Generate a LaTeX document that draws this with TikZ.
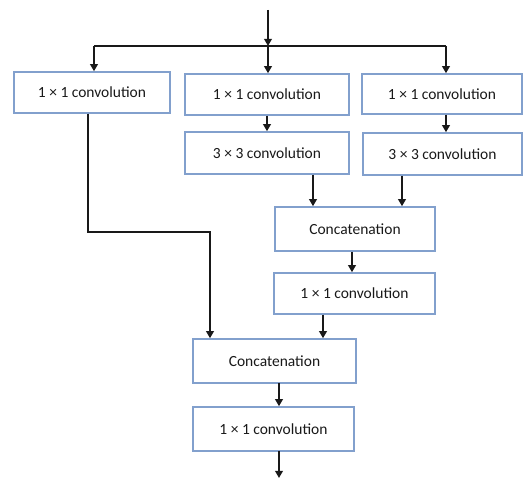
\documentclass[tikz,border=0pt]{standalone}
\usepackage{fontspec}
\setmainfont{Carlito}
\usetikzlibrary{arrows.meta}
\begin{document}
\begin{tikzpicture}[x=1pt,y=-1pt,
  box/.style={draw=boxblue,line width=1.5pt,fill=white,inner sep=0pt,
    font=\fontsize{15.5}{17}\selectfont,text=black!90},
  arr/.style={line width=2.1pt,draw=black!90,-{Triangle[length=7pt,width=7.5pt]}},
  ln/.style={line width=2.1pt,draw=black!90}]
\definecolor{boxblue}{RGB}{130,160,205}
\useasboundingbox (0,0) rectangle (528,478);
\node[box,minimum width=156pt,minimum height=41pt] (A1) at (92,92.5) {1 × 1 convolution};
\node[box,minimum width=164pt,minimum height=41pt] (B1) at (267,94.5) {1 × 1 convolution};
\node[box,minimum width=160pt,minimum height=40pt] (C1) at (442,94) {1 × 1 convolution};
\node[box,minimum width=164pt,minimum height=42pt] (B2) at (267,153) {3 × 3 convolution};
\node[box,minimum width=159pt,minimum height=42pt] (C2) at (442.5,154) {3 × 3 convolution};
\node[box,minimum width=160pt,minimum height=44pt] (Cat1) at (355,229) {Concatenation};
\node[box,minimum width=161pt,minimum height=41pt] (M) at (354.5,293.5) {1 × 1 convolution};
\node[box,minimum width=163pt,minimum height=44pt] (Cat2) at (274.5,361) {Concatenation};
\node[box,minimum width=161pt,minimum height=44pt] (F) at (273.5,429) {1 × 1 convolution};
% input
\coordinate (in) at (268,10);
\coordinate (j) at (268,46);
\coordinate (jl) at (94,46);
\coordinate (jr) at (446,46);
\draw[arr] (in) -- (j);
\draw[ln] (jl) -- (jr);
\draw[arr] (j) -- (j |- B1.north);
\draw[arr] (jl) -- (jl |- A1.north);
\draw[arr] (jr) -- (jr |- C1.north);
% internal branches
\draw[arr] (B1.south) -- (B2.north);
\coordinate (c1o) at ([xshift=4pt]C1.south);
\draw[arr] (c1o) -- (c1o |- C2.north);
\coordinate (b2o) at ([xshift=46pt]B2.south);
\draw[arr] (b2o) -- (b2o |- Cat1.north);
\coordinate (c2o) at ([xshift=-40.5pt]C2.south);
\draw[arr] (c2o) -- (c2o |- Cat1.north);
\coordinate (cat1o) at ([xshift=-3pt]Cat1.south);
\draw[arr] (cat1o) -- (cat1o |- M.north);
\coordinate (mo) at ([xshift=-31.5pt]M.south);
\draw[arr] (mo) -- (mo |- Cat2.north);
% left path
\coordinate (a1o) at ([xshift=-4pt]A1.south);
\coordinate (k) at (210,232);
\draw[arr] (a1o) |- (k) -- (k |- Cat2.north);
% output
\coordinate (cat2o) at (279,383);
\draw[arr] (cat2o) -- (cat2o |- F.north);
\coordinate (fo) at (279,451);
\coordinate (out) at (279,478);
\draw[arr] (fo) -- (out);
\end{tikzpicture}
\end{document}
